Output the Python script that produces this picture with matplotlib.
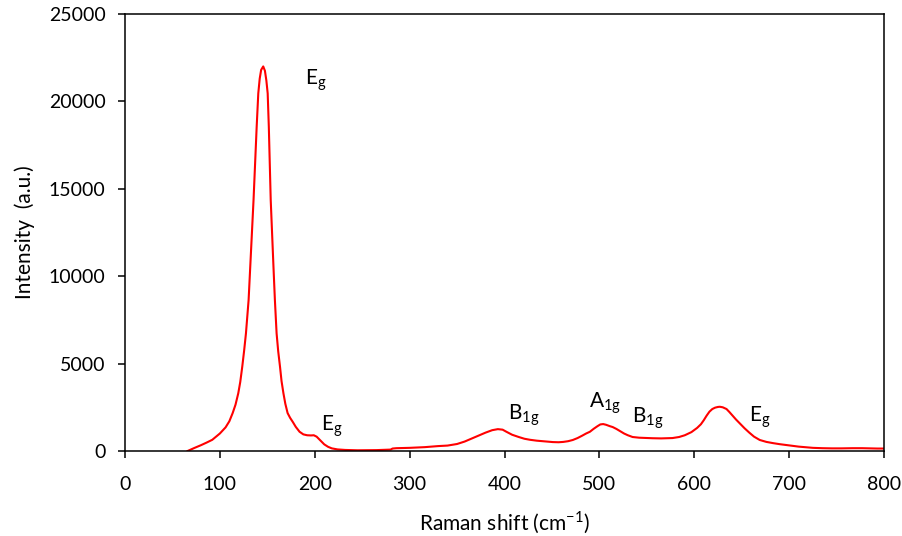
import matplotlib
matplotlib.use('Agg')
import matplotlib.pyplot as plt

# Raman spectrum
shift = [66, 73, 80, 86, 92, 100, 106, 110, 113.5, 116.5, 119.4, 121.5, 123.6, 125.6,
         127.5, 130.3, 132.0, 133.8, 135.5, 137.2, 138.8, 140.5, 142, 143.5, 145.7,
         147.5, 149, 150.4, 151.6, 152.6, 153.6, 155, 156.5, 158, 159.8, 161.5, 163.4,
         165, 167, 169, 171.4, 174, 177, 180, 184, 188, 192, 196, 199, 202, 206, 210,
         214, 218, 224, 232, 245, 265, 280, 282, 286, 300, 316, 330, 340, 350, 358,
         364, 372, 380, 387, 393, 398, 402, 408, 415, 421, 427, 434, 440, 446, 451,
         457, 462, 467, 472, 477, 482, 486, 490, 494, 498, 501, 504, 507, 511, 514,
         518, 522, 526, 530, 535, 542, 550, 556, 565, 577, 584, 590, 597, 603, 607,
         610, 613, 616, 619, 622, 625, 627, 630, 634, 637, 641, 644, 648, 653, 658,
         663, 669, 676, 683, 690, 697, 704, 710, 718, 725, 735, 745, 755, 767, 777,
         785, 793, 800]
intensity = [0, 170, 330, 480, 640, 1000, 1350, 1700, 2170, 2650, 3300, 3950, 4820, 5750,
             6730, 8640, 10540, 12450, 14360, 16500, 18550, 20460, 21300, 21800, 22000,
             21750, 21200, 20460, 18550, 16400, 14360, 12450, 10540, 8640, 6730, 5700,
             4820, 4000, 3300, 2700, 2170, 1900, 1650, 1380, 1100, 950, 900, 890, 900,
             820, 600, 380, 240, 150, 90, 60, 40, 50, 80, 140, 160, 180, 220, 280, 310,
             400, 540, 680, 860, 1050, 1190, 1250, 1220, 1100, 930, 800, 700, 640, 590,
             560, 530, 510, 500, 520, 560, 630, 740, 880, 1000, 1100, 1270, 1420, 1520,
             1540, 1500, 1420, 1370, 1260, 1130, 1000, 900, 800, 760, 740, 730, 720, 740,
             800, 900, 1080, 1320, 1530, 1760, 2020, 2250, 2400, 2480, 2520, 2530, 2500,
             2400, 2230, 1980, 1800, 1580, 1300, 1050, 820, 630, 520, 450, 390, 340, 290,
             250, 210, 180, 160, 150, 150, 160, 160, 150, 140, 140]

# mode labels: (main, subscript, x, y)
labels = [('E', 'g', 190, 21200), ('E', 'g', 207, 1450), ('B', '1g', 404, 2050),
          ('A', '1g', 489, 2750), ('B', '1g', 534, 1900), ('E', 'g', 658, 1950)]

plt.rcParams['font.family'] = ['Lato', 'DejaVu Sans']
plt.rcParams['font.size'] = 14

fig = plt.figure(figsize=(9.03, 5.36), dpi=100)
ax = fig.add_axes([0.1384, 0.1586, 0.8406, 0.8153])

ax.plot(shift, intensity, color='#ff0000', lw=1.5)

for main, sub, x, y in labels:
    ax.text(x, y, main + '$_{\\mathregular{' + sub + '}}$', fontsize=15,
            ha='left', va='center')

ax.set_xlim(0, 800)
ax.set_ylim(0, 25000)
ax.set_xticks(range(0, 801, 100))
ax.set_yticks(range(0, 25001, 5000))
ax.tick_params(direction='out', length=5, width=1.1)
ax.tick_params(axis='x', pad=13)
ax.tick_params(axis='y', pad=9)
for s in ax.spines.values():
    s.set_linewidth(1.1)

ax.set_xlabel('Raman shift (cm$^{\\mathregular{-1}}$)', fontsize=15, labelpad=12)
ax.set_ylabel('Intensity  (a.u.)', fontsize=15, labelpad=10)

fig.savefig('out.png', dpi=100)
